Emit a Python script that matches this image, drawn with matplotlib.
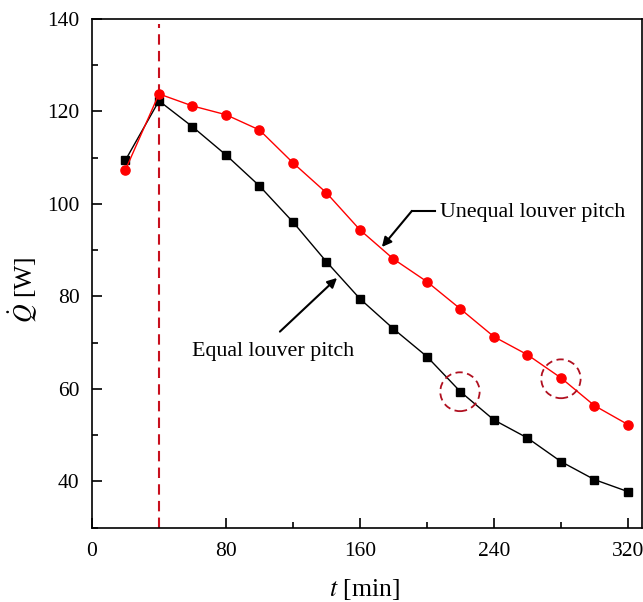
import matplotlib
matplotlib.use("Agg")
import matplotlib.pyplot as plt
from matplotlib.patches import Ellipse
from matplotlib.ticker import MultipleLocator

t = [20, 40, 60, 80, 100, 120, 140, 160, 180, 200, 220, 240, 260, 280, 300, 320]
equal = [109.5, 122.3, 116.7, 110.6, 103.9, 96.1, 87.5, 79.5, 73.0, 67.0, 59.4, 53.3, 49.4, 44.3, 40.4, 37.8]
unequal = [107.4, 123.8, 121.2, 119.3, 116.0, 108.9, 102.4, 94.4, 88.1, 83.2, 77.3, 71.3, 67.4, 62.4, 56.4, 52.3]
xticks = [0, 80, 160, 240, 320]
yticks = [40, 60, 80, 100, 120, 140]

plt.rcParams['font.family'] = ['Liberation Serif', 'DejaVu Serif']
plt.rcParams['mathtext.fontset'] = 'stix'

fig = plt.figure(figsize=(6.43, 6.02), dpi=100)
ax = fig.add_axes([92/643, 74.3/602, 550/643, 508.7/602])

ax.plot(t, equal, color='black', lw=1.0, marker='s', ms=5.8, zorder=3)
ax.plot(t, unequal, color='#ff0000', lw=1.0, marker='o', ms=6.6, zorder=3)

ax.axvline(40, color='#c8101e', lw=1.5, ls=(0, (5, 3)), ymax=0.99, zorder=2)

for cx, cy in [(219.7, 59.4), (280.0, 62.2)]:
    ax.add_patch(Ellipse((cx, cy), 23.5, 8.4, fill=False, ec='#b01020', lw=1.3, ls=(0, (4, 2.5)), zorder=4))

ax.plot([191.0, 204.8], [98.5, 98.5], color='black', lw=1.5)
ax.annotate('', xy=(173.1, 90.7), xytext=(191.0, 98.5),
            arrowprops=dict(arrowstyle='-|>', color='black', lw=1.5, mutation_scale=14, shrinkA=0, shrinkB=0))
ax.text(207.8, 98.1, 'Unequal louver pitch', fontsize=15.8, va='center', ha='left')

ax.annotate('', xy=(146.3, 84.0), xytext=(112.2, 72.4),
            arrowprops=dict(arrowstyle='-|>', color='black', lw=1.5, mutation_scale=14, shrinkA=0, shrinkB=0))
ax.text(59.7, 68.0, 'Equal louver pitch', fontsize=15.8, va='center', ha='left')

ax.set_xlim(0, 328.4)
ax.set_ylim(30, 140)
ax.set_xticks(xticks)
ax.set_yticks(yticks)
ax.xaxis.set_minor_locator(MultipleLocator(40))
ax.yaxis.set_minor_locator(MultipleLocator(10))
ax.tick_params(which='both', direction='in', top=False, right=False, labelsize=15.5)
ax.tick_params(which='major', length=7, width=1.2)
ax.tick_params(axis='y', which='major', pad=9)
ax.tick_params(axis='x', which='major', pad=10)
ax.tick_params(which='minor', length=4.5, width=1.2)
for s in ax.spines.values():
    s.set_linewidth(1.2)

ax.set_xlabel(r'$t$ [min]', fontsize=18.5, va='center')
ax.set_ylabel(r'$\dot{Q}$ [W]', fontsize=18.5, va='center')
ax.xaxis.set_label_coords(0.495, -0.122)
ax.yaxis.set_label_coords(-0.127, 0.468)

fig.savefig('out.png', dpi=100)
